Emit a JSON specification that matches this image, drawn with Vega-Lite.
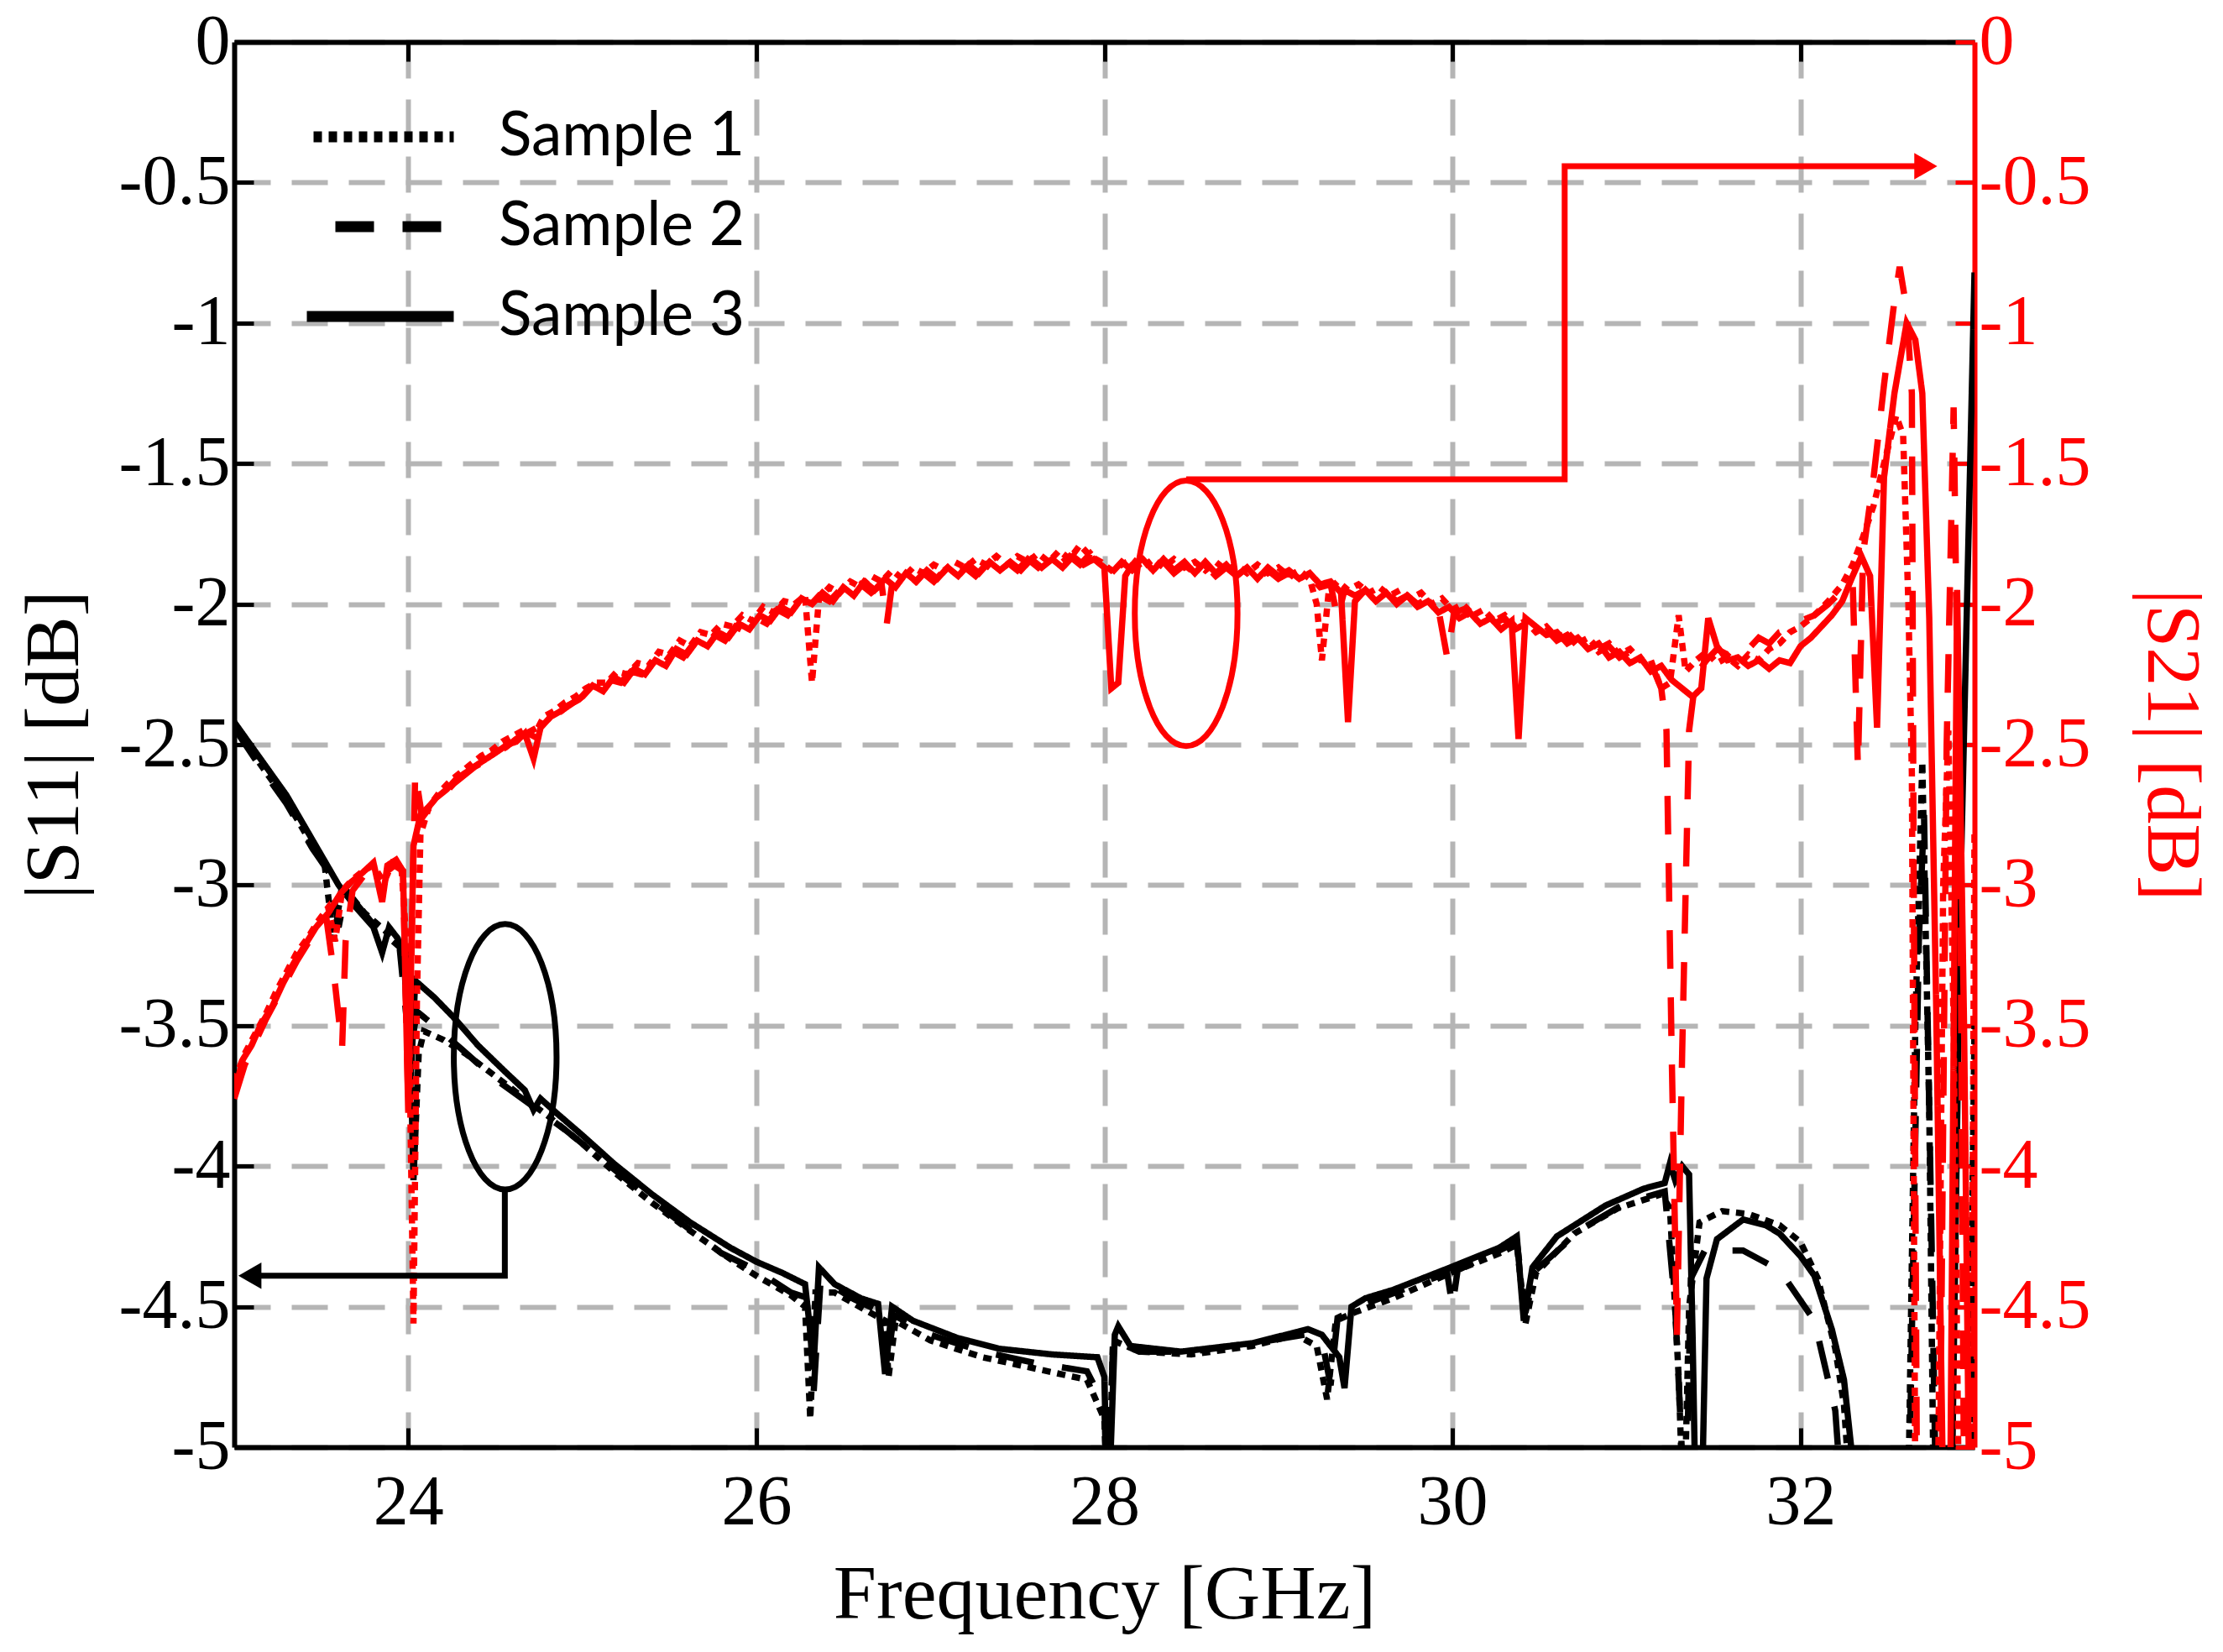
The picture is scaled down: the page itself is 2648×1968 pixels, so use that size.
{
  "$schema": "https://vega.github.io/schema/vega-lite/v6.json",
  "description": "|S11| and |S21| of three samples versus frequency, with the S21 values on a red right-hand axis.",
  "width": 2073,
  "height": 1674,
  "autosize": "none",
  "padding": {"left": 279, "top": 50, "right": 296, "bottom": 244},
  "background": "white",
  "config": {"view": {"stroke": null}},
  "datasets": {
    "ann": [
      {"g": "a11", "p": "S11", "i": 0, "f": 24.555, "db": -4.08},
      {"g": "a11", "p": "S11", "i": 1, "f": 24.555, "db": -4.39},
      {"g": "a11", "p": "S11", "i": 2, "f": 23.09, "db": -4.39},
      {"g": "a21", "p": "S21", "i": 0, "f": 28.47, "db": -1.556},
      {"g": "a21", "p": "S21", "i": 1, "f": 30.645, "db": -1.556},
      {"g": "a21", "p": "S21", "i": 2, "f": 30.645, "db": -0.442},
      {"g": "a21", "p": "S21", "i": 3, "f": 32.72, "db": -0.442}
    ],
    "heads": [
      {"p": "S11", "d": "left", "f": 23.09, "db": -4.39},
      {"p": "S21", "d": "right", "f": 32.72, "db": -0.442}
    ],
    "rings": [
      {"p": "S11", "f": 24.557, "db": -3.611},
      {"p": "S21", "f": 28.47, "db": -2.033}
    ],
    "curves": [
      {"p": "S11", "s": "Sample 3", "f": 23.00, "db": -2.42},
      {"p": "S11", "s": "Sample 3", "f": 23.15, "db": -2.55},
      {"p": "S11", "s": "Sample 3", "f": 23.30, "db": -2.68},
      {"p": "S11", "s": "Sample 3", "f": 23.45, "db": -2.84},
      {"p": "S11", "s": "Sample 3", "f": 23.60, "db": -3.00},
      {"p": "S11", "s": "Sample 3", "f": 23.70, "db": -3.08},
      {"p": "S11", "s": "Sample 3", "f": 23.80, "db": -3.15},
      {"p": "S11", "s": "Sample 3", "f": 23.85, "db": -3.24},
      {"p": "S11", "s": "Sample 3", "f": 23.89, "db": -3.15},
      {"p": "S11", "s": "Sample 3", "f": 23.94, "db": -3.19},
      {"p": "S11", "s": "Sample 3", "f": 23.98, "db": -3.30},
      {"p": "S11", "s": "Sample 3", "f": 24.01, "db": -3.75},
      {"p": "S11", "s": "Sample 3", "f": 24.04, "db": -3.34},
      {"p": "S11", "s": "Sample 3", "f": 24.15, "db": -3.40},
      {"p": "S11", "s": "Sample 3", "f": 24.26, "db": -3.47},
      {"p": "S11", "s": "Sample 3", "f": 24.40, "db": -3.57},
      {"p": "S11", "s": "Sample 3", "f": 24.55, "db": -3.66},
      {"p": "S11", "s": "Sample 3", "f": 24.67, "db": -3.73},
      {"p": "S11", "s": "Sample 3", "f": 24.72, "db": -3.80},
      {"p": "S11", "s": "Sample 3", "f": 24.76, "db": -3.76},
      {"p": "S11", "s": "Sample 3", "f": 24.85, "db": -3.81},
      {"p": "S11", "s": "Sample 3", "f": 25.00, "db": -3.89},
      {"p": "S11", "s": "Sample 3", "f": 25.18, "db": -3.99},
      {"p": "S11", "s": "Sample 3", "f": 25.40, "db": -4.10},
      {"p": "S11", "s": "Sample 3", "f": 25.62, "db": -4.20},
      {"p": "S11", "s": "Sample 3", "f": 25.85, "db": -4.29},
      {"p": "S11", "s": "Sample 3", "f": 26.00, "db": -4.34},
      {"p": "S11", "s": "Sample 3", "f": 26.15, "db": -4.38},
      {"p": "S11", "s": "Sample 3", "f": 26.28, "db": -4.42},
      {"p": "S11", "s": "Sample 3", "f": 26.33, "db": -4.70},
      {"p": "S11", "s": "Sample 3", "f": 26.36, "db": -4.36},
      {"p": "S11", "s": "Sample 3", "f": 26.45, "db": -4.42},
      {"p": "S11", "s": "Sample 3", "f": 26.60, "db": -4.47},
      {"p": "S11", "s": "Sample 3", "f": 26.70, "db": -4.49},
      {"p": "S11", "s": "Sample 3", "f": 26.74, "db": -4.74},
      {"p": "S11", "s": "Sample 3", "f": 26.78, "db": -4.50},
      {"p": "S11", "s": "Sample 3", "f": 26.90, "db": -4.55},
      {"p": "S11", "s": "Sample 3", "f": 27.15, "db": -4.61},
      {"p": "S11", "s": "Sample 3", "f": 27.40, "db": -4.65},
      {"p": "S11", "s": "Sample 3", "f": 27.70, "db": -4.67},
      {"p": "S11", "s": "Sample 3", "f": 27.96, "db": -4.68},
      {"p": "S11", "s": "Sample 3", "f": 28.00, "db": -4.75},
      {"p": "S11", "s": "Sample 3", "f": 28.02, "db": -5.30},
      {"p": "S11", "s": "Sample 3", "f": 28.06, "db": -4.60},
      {"p": "S11", "s": "Sample 3", "f": 28.08, "db": -4.57},
      {"p": "S11", "s": "Sample 3", "f": 28.15, "db": -4.64},
      {"p": "S11", "s": "Sample 3", "f": 28.44, "db": -4.66},
      {"p": "S11", "s": "Sample 3", "f": 28.85, "db": -4.63},
      {"p": "S11", "s": "Sample 3", "f": 29.17, "db": -4.58},
      {"p": "S11", "s": "Sample 3", "f": 29.25, "db": -4.60},
      {"p": "S11", "s": "Sample 3", "f": 29.35, "db": -4.68},
      {"p": "S11", "s": "Sample 3", "f": 29.38, "db": -4.79},
      {"p": "S11", "s": "Sample 3", "f": 29.42, "db": -4.50},
      {"p": "S11", "s": "Sample 3", "f": 29.50, "db": -4.47},
      {"p": "S11", "s": "Sample 3", "f": 29.66, "db": -4.44},
      {"p": "S11", "s": "Sample 3", "f": 29.99, "db": -4.36},
      {"p": "S11", "s": "Sample 3", "f": 30.27, "db": -4.29},
      {"p": "S11", "s": "Sample 3", "f": 30.37, "db": -4.25},
      {"p": "S11", "s": "Sample 3", "f": 30.41, "db": -4.55},
      {"p": "S11", "s": "Sample 3", "f": 30.46, "db": -4.36},
      {"p": "S11", "s": "Sample 3", "f": 30.60, "db": -4.25},
      {"p": "S11", "s": "Sample 3", "f": 30.88, "db": -4.14},
      {"p": "S11", "s": "Sample 3", "f": 31.10, "db": -4.08},
      {"p": "S11", "s": "Sample 3", "f": 31.22, "db": -4.06},
      {"p": "S11", "s": "Sample 3", "f": 31.25, "db": -3.99},
      {"p": "S11", "s": "Sample 3", "f": 31.28, "db": -4.05},
      {"p": "S11", "s": "Sample 3", "f": 31.32, "db": -4.00},
      {"p": "S11", "s": "Sample 3", "f": 31.36, "db": -4.03},
      {"p": "S11", "s": "Sample 3", "f": 31.38, "db": -4.60},
      {"p": "S11", "s": "Sample 3", "f": 31.40, "db": -5.30},
      {"p": "S11", "s": "Sample 3", "f": 31.43, "db": -5.30},
      {"p": "S11", "s": "Sample 3", "f": 31.46, "db": -4.40},
      {"p": "S11", "s": "Sample 3", "f": 31.52, "db": -4.26},
      {"p": "S11", "s": "Sample 3", "f": 31.67, "db": -4.19},
      {"p": "S11", "s": "Sample 3", "f": 31.80, "db": -4.21},
      {"p": "S11", "s": "Sample 3", "f": 31.88, "db": -4.24},
      {"p": "S11", "s": "Sample 3", "f": 32.00, "db": -4.32},
      {"p": "S11", "s": "Sample 3", "f": 32.08, "db": -4.39},
      {"p": "S11", "s": "Sample 3", "f": 32.18, "db": -4.58},
      {"p": "S11", "s": "Sample 3", "f": 32.25, "db": -4.76},
      {"p": "S11", "s": "Sample 3", "f": 32.30, "db": -5.05},
      {"p": "S11", "s": "Sample 3", "f": 32.40, "db": -6.00},
      {"p": "S11", "s": "Sample 3", "f": 32.85, "db": -6.00},
      {"p": "S11", "s": "Sample 3", "f": 32.92, "db": -3.00},
      {"p": "S11", "s": "Sample 3", "f": 33.00, "db": -0.82},

      {"p": "S11", "s": "Sample 1", "f": 23.00, "db": -2.43},
      {"p": "S11", "s": "Sample 1", "f": 23.15, "db": -2.57},
      {"p": "S11", "s": "Sample 1", "f": 23.30, "db": -2.70},
      {"p": "S11", "s": "Sample 1", "f": 23.45, "db": -2.86},
      {"p": "S11", "s": "Sample 1", "f": 23.52, "db": -2.93},
      {"p": "S11", "s": "Sample 1", "f": 23.57, "db": -3.20},
      {"p": "S11", "s": "Sample 1", "f": 23.62, "db": -3.00},
      {"p": "S11", "s": "Sample 1", "f": 23.75, "db": -3.10},
      {"p": "S11", "s": "Sample 1", "f": 23.90, "db": -3.18},
      {"p": "S11", "s": "Sample 1", "f": 24.00, "db": -3.25},
      {"p": "S11", "s": "Sample 1", "f": 24.03, "db": -4.05},
      {"p": "S11", "s": "Sample 1", "f": 24.06, "db": -3.60},
      {"p": "S11", "s": "Sample 1", "f": 24.09, "db": -3.52},
      {"p": "S11", "s": "Sample 1", "f": 24.20, "db": -3.55},
      {"p": "S11", "s": "Sample 1", "f": 24.33, "db": -3.60},
      {"p": "S11", "s": "Sample 1", "f": 24.50, "db": -3.68},
      {"p": "S11", "s": "Sample 1", "f": 24.67, "db": -3.76},
      {"p": "S11", "s": "Sample 1", "f": 24.80, "db": -3.82},
      {"p": "S11", "s": "Sample 1", "f": 25.00, "db": -3.92},
      {"p": "S11", "s": "Sample 1", "f": 25.20, "db": -4.03},
      {"p": "S11", "s": "Sample 1", "f": 25.40, "db": -4.13},
      {"p": "S11", "s": "Sample 1", "f": 25.62, "db": -4.23},
      {"p": "S11", "s": "Sample 1", "f": 25.85, "db": -4.33},
      {"p": "S11", "s": "Sample 1", "f": 26.00, "db": -4.39},
      {"p": "S11", "s": "Sample 1", "f": 26.20, "db": -4.46},
      {"p": "S11", "s": "Sample 1", "f": 26.28, "db": -4.50},
      {"p": "S11", "s": "Sample 1", "f": 26.31, "db": -4.90},
      {"p": "S11", "s": "Sample 1", "f": 26.34, "db": -4.45},
      {"p": "S11", "s": "Sample 1", "f": 26.45, "db": -4.45},
      {"p": "S11", "s": "Sample 1", "f": 26.65, "db": -4.52},
      {"p": "S11", "s": "Sample 1", "f": 26.74, "db": -4.55},
      {"p": "S11", "s": "Sample 1", "f": 26.76, "db": -4.75},
      {"p": "S11", "s": "Sample 1", "f": 26.80, "db": -4.55},
      {"p": "S11", "s": "Sample 1", "f": 27.00, "db": -4.62},
      {"p": "S11", "s": "Sample 1", "f": 27.30, "db": -4.68},
      {"p": "S11", "s": "Sample 1", "f": 27.60, "db": -4.72},
      {"p": "S11", "s": "Sample 1", "f": 27.90, "db": -4.76},
      {"p": "S11", "s": "Sample 1", "f": 28.00, "db": -4.90},
      {"p": "S11", "s": "Sample 1", "f": 28.02, "db": -5.30},
      {"p": "S11", "s": "Sample 1", "f": 28.05, "db": -4.62},
      {"p": "S11", "s": "Sample 1", "f": 28.20, "db": -4.66},
      {"p": "S11", "s": "Sample 1", "f": 28.50, "db": -4.67},
      {"p": "S11", "s": "Sample 1", "f": 28.85, "db": -4.64},
      {"p": "S11", "s": "Sample 1", "f": 29.10, "db": -4.60},
      {"p": "S11", "s": "Sample 1", "f": 29.22, "db": -4.64},
      {"p": "S11", "s": "Sample 1", "f": 29.28, "db": -4.83},
      {"p": "S11", "s": "Sample 1", "f": 29.33, "db": -4.55},
      {"p": "S11", "s": "Sample 1", "f": 29.44, "db": -4.52},
      {"p": "S11", "s": "Sample 1", "f": 29.66, "db": -4.47},
      {"p": "S11", "s": "Sample 1", "f": 29.99, "db": -4.38},
      {"p": "S11", "s": "Sample 1", "f": 30.27, "db": -4.31},
      {"p": "S11", "s": "Sample 1", "f": 30.37, "db": -4.28},
      {"p": "S11", "s": "Sample 1", "f": 30.42, "db": -4.56},
      {"p": "S11", "s": "Sample 1", "f": 30.48, "db": -4.38},
      {"p": "S11", "s": "Sample 1", "f": 30.70, "db": -4.24},
      {"p": "S11", "s": "Sample 1", "f": 30.95, "db": -4.15},
      {"p": "S11", "s": "Sample 1", "f": 31.20, "db": -4.10},
      {"p": "S11", "s": "Sample 1", "f": 31.25, "db": -4.15},
      {"p": "S11", "s": "Sample 1", "f": 31.30, "db": -4.75},
      {"p": "S11", "s": "Sample 1", "f": 31.33, "db": -5.30},
      {"p": "S11", "s": "Sample 1", "f": 31.36, "db": -4.50},
      {"p": "S11", "s": "Sample 1", "f": 31.42, "db": -4.20},
      {"p": "S11", "s": "Sample 1", "f": 31.55, "db": -4.16},
      {"p": "S11", "s": "Sample 1", "f": 31.70, "db": -4.17},
      {"p": "S11", "s": "Sample 1", "f": 31.88, "db": -4.21},
      {"p": "S11", "s": "Sample 1", "f": 32.00, "db": -4.27},
      {"p": "S11", "s": "Sample 1", "f": 32.10, "db": -4.40},
      {"p": "S11", "s": "Sample 1", "f": 32.20, "db": -4.65},
      {"p": "S11", "s": "Sample 1", "f": 32.25, "db": -4.85},
      {"p": "S11", "s": "Sample 1", "f": 32.30, "db": -5.30},
      {"p": "S11", "s": "Sample 1", "f": 32.40, "db": -6.00},
      {"p": "S11", "s": "Sample 1", "f": 32.60, "db": -6.00},
      {"p": "S11", "s": "Sample 1", "f": 32.66, "db": -3.50},
      {"p": "S11", "s": "Sample 1", "f": 32.70, "db": -2.56},
      {"p": "S11", "s": "Sample 1", "f": 32.74, "db": -3.80},
      {"p": "S11", "s": "Sample 1", "f": 32.78, "db": -6.00},
      {"p": "S11", "s": "Sample 1", "f": 32.95, "db": -6.00},
      {"p": "S11", "s": "Sample 1", "f": 33.00, "db": -3.50},

      {"p": "S11", "s": "Sample 2", "f": 23.00, "db": -2.44},
      {"p": "S11", "s": "Sample 2", "f": 23.15, "db": -2.58},
      {"p": "S11", "s": "Sample 2", "f": 23.30, "db": -2.71},
      {"p": "S11", "s": "Sample 2", "f": 23.45, "db": -2.87},
      {"p": "S11", "s": "Sample 2", "f": 23.55, "db": -2.96},
      {"p": "S11", "s": "Sample 2", "f": 23.60, "db": -3.15},
      {"p": "S11", "s": "Sample 2", "f": 23.64, "db": -3.02},
      {"p": "S11", "s": "Sample 2", "f": 23.80, "db": -3.14},
      {"p": "S11", "s": "Sample 2", "f": 23.95, "db": -3.22},
      {"p": "S11", "s": "Sample 2", "f": 24.01, "db": -3.60},
      {"p": "S11", "s": "Sample 2", "f": 24.05, "db": -3.45},
      {"p": "S11", "s": "Sample 2", "f": 24.15, "db": -3.50},
      {"p": "S11", "s": "Sample 2", "f": 24.30, "db": -3.58},
      {"p": "S11", "s": "Sample 2", "f": 24.50, "db": -3.69},
      {"p": "S11", "s": "Sample 2", "f": 24.70, "db": -3.78},
      {"p": "S11", "s": "Sample 2", "f": 24.90, "db": -3.87},
      {"p": "S11", "s": "Sample 2", "f": 25.20, "db": -4.02},
      {"p": "S11", "s": "Sample 2", "f": 25.50, "db": -4.17},
      {"p": "S11", "s": "Sample 2", "f": 25.80, "db": -4.31},
      {"p": "S11", "s": "Sample 2", "f": 26.00, "db": -4.37},
      {"p": "S11", "s": "Sample 2", "f": 26.20, "db": -4.45},
      {"p": "S11", "s": "Sample 2", "f": 26.30, "db": -4.47},
      {"p": "S11", "s": "Sample 2", "f": 26.33, "db": -4.80},
      {"p": "S11", "s": "Sample 2", "f": 26.37, "db": -4.40},
      {"p": "S11", "s": "Sample 2", "f": 26.55, "db": -4.47},
      {"p": "S11", "s": "Sample 2", "f": 26.72, "db": -4.52},
      {"p": "S11", "s": "Sample 2", "f": 26.75, "db": -4.72},
      {"p": "S11", "s": "Sample 2", "f": 26.79, "db": -4.53},
      {"p": "S11", "s": "Sample 2", "f": 27.00, "db": -4.60},
      {"p": "S11", "s": "Sample 2", "f": 27.30, "db": -4.66},
      {"p": "S11", "s": "Sample 2", "f": 27.60, "db": -4.70},
      {"p": "S11", "s": "Sample 2", "f": 27.90, "db": -4.73},
      {"p": "S11", "s": "Sample 2", "f": 28.00, "db": -4.85},
      {"p": "S11", "s": "Sample 2", "f": 28.02, "db": -5.30},
      {"p": "S11", "s": "Sample 2", "f": 28.05, "db": -4.62},
      {"p": "S11", "s": "Sample 2", "f": 28.20, "db": -4.66},
      {"p": "S11", "s": "Sample 2", "f": 28.50, "db": -4.66},
      {"p": "S11", "s": "Sample 2", "f": 28.85, "db": -4.63},
      {"p": "S11", "s": "Sample 2", "f": 29.15, "db": -4.60},
      {"p": "S11", "s": "Sample 2", "f": 29.26, "db": -4.65},
      {"p": "S11", "s": "Sample 2", "f": 29.30, "db": -4.78},
      {"p": "S11", "s": "Sample 2", "f": 29.34, "db": -4.54},
      {"p": "S11", "s": "Sample 2", "f": 29.50, "db": -4.49},
      {"p": "S11", "s": "Sample 2", "f": 29.80, "db": -4.42},
      {"p": "S11", "s": "Sample 2", "f": 29.97, "db": -4.38},
      {"p": "S11", "s": "Sample 2", "f": 30.00, "db": -4.50},
      {"p": "S11", "s": "Sample 2", "f": 30.03, "db": -4.37},
      {"p": "S11", "s": "Sample 2", "f": 30.27, "db": -4.30},
      {"p": "S11", "s": "Sample 2", "f": 30.37, "db": -4.27},
      {"p": "S11", "s": "Sample 2", "f": 30.42, "db": -4.52},
      {"p": "S11", "s": "Sample 2", "f": 30.48, "db": -4.37},
      {"p": "S11", "s": "Sample 2", "f": 30.75, "db": -4.22},
      {"p": "S11", "s": "Sample 2", "f": 31.00, "db": -4.13},
      {"p": "S11", "s": "Sample 2", "f": 31.22, "db": -4.09},
      {"p": "S11", "s": "Sample 2", "f": 31.28, "db": -4.50},
      {"p": "S11", "s": "Sample 2", "f": 31.31, "db": -4.90},
      {"p": "S11", "s": "Sample 2", "f": 31.34, "db": -5.30},
      {"p": "S11", "s": "Sample 2", "f": 31.37, "db": -4.40},
      {"p": "S11", "s": "Sample 2", "f": 31.45, "db": -4.30},
      {"p": "S11", "s": "Sample 2", "f": 31.67, "db": -4.30},
      {"p": "S11", "s": "Sample 2", "f": 31.88, "db": -4.37},
      {"p": "S11", "s": "Sample 2", "f": 32.08, "db": -4.55},
      {"p": "S11", "s": "Sample 2", "f": 32.20, "db": -4.87},
      {"p": "S11", "s": "Sample 2", "f": 32.25, "db": -5.30},
      {"p": "S11", "s": "Sample 2", "f": 32.35, "db": -6.00},
      {"p": "S11", "s": "Sample 2", "f": 32.60, "db": -6.00},
      {"p": "S11", "s": "Sample 2", "f": 32.68, "db": -3.20},
      {"p": "S11", "s": "Sample 2", "f": 32.71, "db": -2.75},
      {"p": "S11", "s": "Sample 2", "f": 32.76, "db": -4.50},
      {"p": "S11", "s": "Sample 2", "f": 32.80, "db": -6.00},
      {"p": "S11", "s": "Sample 2", "f": 32.96, "db": -6.00},
      {"p": "S11", "s": "Sample 2", "f": 33.00, "db": -3.80},

      {"p": "S21", "s": "Sample 3", "f": 23.00, "db": -3.74},
      {"p": "S21", "s": "Sample 3", "f": 23.05, "db": -3.62},
      {"p": "S21", "s": "Sample 3", "f": 23.10, "db": -3.57},
      {"p": "S21", "s": "Sample 3", "f": 23.15, "db": -3.50},
      {"p": "S21", "s": "Sample 3", "f": 23.22, "db": -3.43},
      {"p": "S21", "s": "Sample 3", "f": 23.28, "db": -3.35},
      {"p": "S21", "s": "Sample 3", "f": 23.34, "db": -3.28},
      {"p": "S21", "s": "Sample 3", "f": 23.40, "db": -3.22},
      {"p": "S21", "s": "Sample 3", "f": 23.47, "db": -3.15},
      {"p": "S21", "s": "Sample 3", "f": 23.54, "db": -3.10},
      {"p": "S21", "s": "Sample 3", "f": 23.61, "db": -3.03},
      {"p": "S21", "s": "Sample 3", "f": 23.67, "db": -2.99},
      {"p": "S21", "s": "Sample 3", "f": 23.73, "db": -2.96},
      {"p": "S21", "s": "Sample 3", "f": 23.80, "db": -2.92},
      {"p": "S21", "s": "Sample 3", "f": 23.85, "db": -3.06},
      {"p": "S21", "s": "Sample 3", "f": 23.88, "db": -2.93},
      {"p": "S21", "s": "Sample 3", "f": 23.93, "db": -2.91},
      {"p": "S21", "s": "Sample 3", "f": 23.97, "db": -2.95},
      {"p": "S21", "s": "Sample 3", "f": 24.00, "db": -3.81},
      {"p": "S21", "s": "Sample 3", "f": 24.03, "db": -2.86},
      {"p": "S21", "s": "Sample 3", "f": 24.07, "db": -2.75},
      {"p": "S21", "s": "Sample 3", "f": 24.12, "db": -2.72},
      {"p": "S21", "s": "Sample 3", "f": 24.16, "db": -2.69},
      {"p": "S21", "s": "Sample 3", "f": 24.22, "db": -2.66},
      {"p": "S21", "s": "Sample 3", "f": 24.28, "db": -2.62},
      {"p": "S21", "s": "Sample 3", "f": 24.33, "db": -2.60},
      {"p": "S21", "s": "Sample 3", "f": 24.40, "db": -2.57},
      {"p": "S21", "s": "Sample 3", "f": 24.45, "db": -2.55},
      {"p": "S21", "s": "Sample 3", "f": 24.50, "db": -2.53},
      {"p": "S21", "s": "Sample 3", "f": 24.57, "db": -2.50},
      {"p": "S21", "s": "Sample 3", "f": 24.62, "db": -2.49},
      {"p": "S21", "s": "Sample 3", "f": 24.67, "db": -2.46},
      {"p": "S21", "s": "Sample 3", "f": 24.72, "db": -2.55},
      {"p": "S21", "s": "Sample 3", "f": 24.76, "db": -2.44},
      {"p": "S21", "s": "Sample 3", "f": 24.82, "db": -2.40},
      {"p": "S21", "s": "Sample 3", "f": 24.88, "db": -2.38},
      {"p": "S21", "s": "Sample 3", "f": 24.95, "db": -2.35},
      {"p": "S21", "s": "Sample 3", "f": 25.00, "db": -2.33},
      {"p": "S21", "s": "Sample 3", "f": 25.06, "db": -2.29},
      {"p": "S21", "s": "Sample 3", "f": 25.12, "db": -2.31},
      {"p": "S21", "s": "Sample 3", "f": 25.18, "db": -2.26},
      {"p": "S21", "s": "Sample 3", "f": 25.24, "db": -2.28},
      {"p": "S21", "s": "Sample 3", "f": 25.30, "db": -2.23},
      {"p": "S21", "s": "Sample 3", "f": 25.36, "db": -2.25},
      {"p": "S21", "s": "Sample 3", "f": 25.42, "db": -2.20},
      {"p": "S21", "s": "Sample 3", "f": 25.48, "db": -2.22},
      {"p": "S21", "s": "Sample 3", "f": 25.54, "db": -2.16},
      {"p": "S21", "s": "Sample 3", "f": 25.60, "db": -2.18},
      {"p": "S21", "s": "Sample 3", "f": 25.66, "db": -2.13},
      {"p": "S21", "s": "Sample 3", "f": 25.72, "db": -2.15},
      {"p": "S21", "s": "Sample 3", "f": 25.78, "db": -2.10},
      {"p": "S21", "s": "Sample 3", "f": 25.84, "db": -2.12},
      {"p": "S21", "s": "Sample 3", "f": 25.90, "db": -2.07},
      {"p": "S21", "s": "Sample 3", "f": 25.96, "db": -2.09},
      {"p": "S21", "s": "Sample 3", "f": 26.02, "db": -2.04},
      {"p": "S21", "s": "Sample 3", "f": 26.08, "db": -2.06},
      {"p": "S21", "s": "Sample 3", "f": 26.14, "db": -2.01},
      {"p": "S21", "s": "Sample 3", "f": 26.20, "db": -2.03},
      {"p": "S21", "s": "Sample 3", "f": 26.26, "db": -1.98},
      {"p": "S21", "s": "Sample 3", "f": 26.32, "db": -2.00},
      {"p": "S21", "s": "Sample 3", "f": 26.38, "db": -1.96},
      {"p": "S21", "s": "Sample 3", "f": 26.44, "db": -1.99},
      {"p": "S21", "s": "Sample 3", "f": 26.50, "db": -1.94},
      {"p": "S21", "s": "Sample 3", "f": 26.56, "db": -1.97},
      {"p": "S21", "s": "Sample 3", "f": 26.62, "db": -1.92},
      {"p": "S21", "s": "Sample 3", "f": 26.68, "db": -1.95},
      {"p": "S21", "s": "Sample 3", "f": 26.74, "db": -1.91},
      {"p": "S21", "s": "Sample 3", "f": 26.80, "db": -1.94},
      {"p": "S21", "s": "Sample 3", "f": 26.86, "db": -1.89},
      {"p": "S21", "s": "Sample 3", "f": 26.92, "db": -1.92},
      {"p": "S21", "s": "Sample 3", "f": 26.98, "db": -1.88},
      {"p": "S21", "s": "Sample 3", "f": 27.04, "db": -1.91},
      {"p": "S21", "s": "Sample 3", "f": 27.10, "db": -1.87},
      {"p": "S21", "s": "Sample 3", "f": 27.16, "db": -1.90},
      {"p": "S21", "s": "Sample 3", "f": 27.22, "db": -1.86},
      {"p": "S21", "s": "Sample 3", "f": 27.28, "db": -1.89},
      {"p": "S21", "s": "Sample 3", "f": 27.34, "db": -1.85},
      {"p": "S21", "s": "Sample 3", "f": 27.40, "db": -1.88},
      {"p": "S21", "s": "Sample 3", "f": 27.46, "db": -1.85},
      {"p": "S21", "s": "Sample 3", "f": 27.52, "db": -1.88},
      {"p": "S21", "s": "Sample 3", "f": 27.58, "db": -1.84},
      {"p": "S21", "s": "Sample 3", "f": 27.64, "db": -1.87},
      {"p": "S21", "s": "Sample 3", "f": 27.70, "db": -1.84},
      {"p": "S21", "s": "Sample 3", "f": 27.76, "db": -1.87},
      {"p": "S21", "s": "Sample 3", "f": 27.82, "db": -1.83},
      {"p": "S21", "s": "Sample 3", "f": 27.88, "db": -1.86},
      {"p": "S21", "s": "Sample 3", "f": 27.94, "db": -1.84},
      {"p": "S21", "s": "Sample 3", "f": 28.00, "db": -1.87},
      {"p": "S21", "s": "Sample 3", "f": 28.04, "db": -2.30},
      {"p": "S21", "s": "Sample 3", "f": 28.08, "db": -2.28},
      {"p": "S21", "s": "Sample 3", "f": 28.12, "db": -1.90},
      {"p": "S21", "s": "Sample 3", "f": 28.16, "db": -1.86},
      {"p": "S21", "s": "Sample 3", "f": 28.22, "db": -1.84},
      {"p": "S21", "s": "Sample 3", "f": 28.28, "db": -1.88},
      {"p": "S21", "s": "Sample 3", "f": 28.34, "db": -1.84},
      {"p": "S21", "s": "Sample 3", "f": 28.40, "db": -1.88},
      {"p": "S21", "s": "Sample 3", "f": 28.46, "db": -1.85},
      {"p": "S21", "s": "Sample 3", "f": 28.52, "db": -1.89},
      {"p": "S21", "s": "Sample 3", "f": 28.58, "db": -1.85},
      {"p": "S21", "s": "Sample 3", "f": 28.64, "db": -1.89},
      {"p": "S21", "s": "Sample 3", "f": 28.70, "db": -1.86},
      {"p": "S21", "s": "Sample 3", "f": 28.76, "db": -1.90},
      {"p": "S21", "s": "Sample 3", "f": 28.82, "db": -1.87},
      {"p": "S21", "s": "Sample 3", "f": 28.88, "db": -1.91},
      {"p": "S21", "s": "Sample 3", "f": 28.94, "db": -1.87},
      {"p": "S21", "s": "Sample 3", "f": 29.00, "db": -1.90},
      {"p": "S21", "s": "Sample 3", "f": 29.06, "db": -1.88},
      {"p": "S21", "s": "Sample 3", "f": 29.12, "db": -1.91},
      {"p": "S21", "s": "Sample 3", "f": 29.18, "db": -1.89},
      {"p": "S21", "s": "Sample 3", "f": 29.24, "db": -1.93},
      {"p": "S21", "s": "Sample 3", "f": 29.30, "db": -1.92},
      {"p": "S21", "s": "Sample 3", "f": 29.36, "db": -1.96},
      {"p": "S21", "s": "Sample 3", "f": 29.40, "db": -2.42},
      {"p": "S21", "s": "Sample 3", "f": 29.44, "db": -1.99},
      {"p": "S21", "s": "Sample 3", "f": 29.50, "db": -1.95},
      {"p": "S21", "s": "Sample 3", "f": 29.56, "db": -1.99},
      {"p": "S21", "s": "Sample 3", "f": 29.62, "db": -1.96},
      {"p": "S21", "s": "Sample 3", "f": 29.68, "db": -2.00},
      {"p": "S21", "s": "Sample 3", "f": 29.74, "db": -1.97},
      {"p": "S21", "s": "Sample 3", "f": 29.80, "db": -2.01},
      {"p": "S21", "s": "Sample 3", "f": 29.86, "db": -1.99},
      {"p": "S21", "s": "Sample 3", "f": 29.92, "db": -2.03},
      {"p": "S21", "s": "Sample 3", "f": 29.98, "db": -2.01},
      {"p": "S21", "s": "Sample 3", "f": 30.04, "db": -2.05},
      {"p": "S21", "s": "Sample 3", "f": 30.10, "db": -2.03},
      {"p": "S21", "s": "Sample 3", "f": 30.16, "db": -2.07},
      {"p": "S21", "s": "Sample 3", "f": 30.22, "db": -2.05},
      {"p": "S21", "s": "Sample 3", "f": 30.28, "db": -2.09},
      {"p": "S21", "s": "Sample 3", "f": 30.34, "db": -2.06},
      {"p": "S21", "s": "Sample 3", "f": 30.38, "db": -2.48},
      {"p": "S21", "s": "Sample 3", "f": 30.42, "db": -2.05},
      {"p": "S21", "s": "Sample 3", "f": 30.48, "db": -2.08},
      {"p": "S21", "s": "Sample 3", "f": 30.54, "db": -2.11},
      {"p": "S21", "s": "Sample 3", "f": 30.60, "db": -2.10},
      {"p": "S21", "s": "Sample 3", "f": 30.66, "db": -2.14},
      {"p": "S21", "s": "Sample 3", "f": 30.72, "db": -2.12},
      {"p": "S21", "s": "Sample 3", "f": 30.78, "db": -2.16},
      {"p": "S21", "s": "Sample 3", "f": 30.84, "db": -2.14},
      {"p": "S21", "s": "Sample 3", "f": 30.90, "db": -2.19},
      {"p": "S21", "s": "Sample 3", "f": 30.96, "db": -2.17},
      {"p": "S21", "s": "Sample 3", "f": 31.02, "db": -2.21},
      {"p": "S21", "s": "Sample 3", "f": 31.08, "db": -2.19},
      {"p": "S21", "s": "Sample 3", "f": 31.14, "db": -2.24},
      {"p": "S21", "s": "Sample 3", "f": 31.20, "db": -2.22},
      {"p": "S21", "s": "Sample 3", "f": 31.26, "db": -2.27},
      {"p": "S21", "s": "Sample 3", "f": 31.32, "db": -2.30},
      {"p": "S21", "s": "Sample 3", "f": 31.38, "db": -2.33},
      {"p": "S21", "s": "Sample 3", "f": 31.43, "db": -2.30},
      {"p": "S21", "s": "Sample 3", "f": 31.47, "db": -2.05},
      {"p": "S21", "s": "Sample 3", "f": 31.52, "db": -2.15},
      {"p": "S21", "s": "Sample 3", "f": 31.58, "db": -2.20},
      {"p": "S21", "s": "Sample 3", "f": 31.64, "db": -2.19},
      {"p": "S21", "s": "Sample 3", "f": 31.70, "db": -2.22},
      {"p": "S21", "s": "Sample 3", "f": 31.76, "db": -2.20},
      {"p": "S21", "s": "Sample 3", "f": 31.82, "db": -2.23},
      {"p": "S21", "s": "Sample 3", "f": 31.88, "db": -2.20},
      {"p": "S21", "s": "Sample 3", "f": 31.94, "db": -2.21},
      {"p": "S21", "s": "Sample 3", "f": 32.00, "db": -2.15},
      {"p": "S21", "s": "Sample 3", "f": 32.06, "db": -2.12},
      {"p": "S21", "s": "Sample 3", "f": 32.12, "db": -2.08},
      {"p": "S21", "s": "Sample 3", "f": 32.18, "db": -2.04},
      {"p": "S21", "s": "Sample 3", "f": 32.24, "db": -1.99},
      {"p": "S21", "s": "Sample 3", "f": 32.30, "db": -1.90},
      {"p": "S21", "s": "Sample 3", "f": 32.35, "db": -1.83},
      {"p": "S21", "s": "Sample 3", "f": 32.40, "db": -1.90},
      {"p": "S21", "s": "Sample 3", "f": 32.44, "db": -2.44},
      {"p": "S21", "s": "Sample 3", "f": 32.48, "db": -1.55},
      {"p": "S21", "s": "Sample 3", "f": 32.54, "db": -1.25},
      {"p": "S21", "s": "Sample 3", "f": 32.61, "db": -1.00},
      {"p": "S21", "s": "Sample 3", "f": 32.66, "db": -1.06},
      {"p": "S21", "s": "Sample 3", "f": 32.70, "db": -1.25},
      {"p": "S21", "s": "Sample 3", "f": 32.74, "db": -2.05},
      {"p": "S21", "s": "Sample 3", "f": 32.78, "db": -3.44},
      {"p": "S21", "s": "Sample 3", "f": 32.82, "db": -5.20},
      {"p": "S21", "s": "Sample 3", "f": 32.86, "db": -5.20},
      {"p": "S21", "s": "Sample 3", "f": 32.90, "db": -1.95},
      {"p": "S21", "s": "Sample 3", "f": 32.94, "db": -3.50},
      {"p": "S21", "s": "Sample 3", "f": 32.97, "db": -5.20},

      {"p": "S21", "s": "Sample 1", "f": 23.00, "db": -3.70},
      {"p": "S21", "s": "Sample 1", "f": 23.06, "db": -3.60},
      {"p": "S21", "s": "Sample 1", "f": 23.12, "db": -3.53},
      {"p": "S21", "s": "Sample 1", "f": 23.18, "db": -3.46},
      {"p": "S21", "s": "Sample 1", "f": 23.24, "db": -3.38},
      {"p": "S21", "s": "Sample 1", "f": 23.30, "db": -3.31},
      {"p": "S21", "s": "Sample 1", "f": 23.36, "db": -3.24},
      {"p": "S21", "s": "Sample 1", "f": 23.42, "db": -3.19},
      {"p": "S21", "s": "Sample 1", "f": 23.48, "db": -3.13},
      {"p": "S21", "s": "Sample 1", "f": 23.54, "db": -3.08},
      {"p": "S21", "s": "Sample 1", "f": 23.58, "db": -3.20},
      {"p": "S21", "s": "Sample 1", "f": 23.62, "db": -3.02},
      {"p": "S21", "s": "Sample 1", "f": 23.68, "db": -2.98},
      {"p": "S21", "s": "Sample 1", "f": 23.74, "db": -2.95},
      {"p": "S21", "s": "Sample 1", "f": 23.80, "db": -2.93},
      {"p": "S21", "s": "Sample 1", "f": 23.86, "db": -2.99},
      {"p": "S21", "s": "Sample 1", "f": 23.91, "db": -2.92},
      {"p": "S21", "s": "Sample 1", "f": 23.96, "db": -2.93},
      {"p": "S21", "s": "Sample 1", "f": 24.00, "db": -3.30},
      {"p": "S21", "s": "Sample 1", "f": 24.03, "db": -4.56},
      {"p": "S21", "s": "Sample 1", "f": 24.05, "db": -3.40},
      {"p": "S21", "s": "Sample 1", "f": 24.07, "db": -2.82},
      {"p": "S21", "s": "Sample 1", "f": 24.12, "db": -2.72},
      {"p": "S21", "s": "Sample 1", "f": 24.18, "db": -2.67},
      {"p": "S21", "s": "Sample 1", "f": 24.24, "db": -2.63},
      {"p": "S21", "s": "Sample 1", "f": 24.30, "db": -2.60},
      {"p": "S21", "s": "Sample 1", "f": 24.36, "db": -2.57},
      {"p": "S21", "s": "Sample 1", "f": 24.42, "db": -2.54},
      {"p": "S21", "s": "Sample 1", "f": 24.48, "db": -2.52},
      {"p": "S21", "s": "Sample 1", "f": 24.54, "db": -2.49},
      {"p": "S21", "s": "Sample 1", "f": 24.60, "db": -2.47},
      {"p": "S21", "s": "Sample 1", "f": 24.66, "db": -2.45},
      {"p": "S21", "s": "Sample 1", "f": 24.72, "db": -2.47},
      {"p": "S21", "s": "Sample 1", "f": 24.78, "db": -2.40},
      {"p": "S21", "s": "Sample 1", "f": 24.84, "db": -2.38},
      {"p": "S21", "s": "Sample 1", "f": 24.90, "db": -2.35},
      {"p": "S21", "s": "Sample 1", "f": 24.96, "db": -2.33},
      {"p": "S21", "s": "Sample 1", "f": 25.02, "db": -2.30},
      {"p": "S21", "s": "Sample 1", "f": 25.08, "db": -2.28},
      {"p": "S21", "s": "Sample 1", "f": 25.14, "db": -2.28},
      {"p": "S21", "s": "Sample 1", "f": 25.20, "db": -2.24},
      {"p": "S21", "s": "Sample 1", "f": 25.26, "db": -2.25},
      {"p": "S21", "s": "Sample 1", "f": 25.32, "db": -2.21},
      {"p": "S21", "s": "Sample 1", "f": 25.38, "db": -2.22},
      {"p": "S21", "s": "Sample 1", "f": 25.44, "db": -2.17},
      {"p": "S21", "s": "Sample 1", "f": 25.50, "db": -2.18},
      {"p": "S21", "s": "Sample 1", "f": 25.56, "db": -2.13},
      {"p": "S21", "s": "Sample 1", "f": 25.62, "db": -2.15},
      {"p": "S21", "s": "Sample 1", "f": 25.68, "db": -2.10},
      {"p": "S21", "s": "Sample 1", "f": 25.74, "db": -2.11},
      {"p": "S21", "s": "Sample 1", "f": 25.80, "db": -2.07},
      {"p": "S21", "s": "Sample 1", "f": 25.86, "db": -2.08},
      {"p": "S21", "s": "Sample 1", "f": 25.92, "db": -2.04},
      {"p": "S21", "s": "Sample 1", "f": 25.98, "db": -2.06},
      {"p": "S21", "s": "Sample 1", "f": 26.04, "db": -2.01},
      {"p": "S21", "s": "Sample 1", "f": 26.10, "db": -2.03},
      {"p": "S21", "s": "Sample 1", "f": 26.16, "db": -1.99},
      {"p": "S21", "s": "Sample 1", "f": 26.22, "db": -2.00},
      {"p": "S21", "s": "Sample 1", "f": 26.28, "db": -1.97},
      {"p": "S21", "s": "Sample 1", "f": 26.32, "db": -2.28},
      {"p": "S21", "s": "Sample 1", "f": 26.36, "db": -1.98},
      {"p": "S21", "s": "Sample 1", "f": 26.42, "db": -1.94},
      {"p": "S21", "s": "Sample 1", "f": 26.48, "db": -1.96},
      {"p": "S21", "s": "Sample 1", "f": 26.54, "db": -1.92},
      {"p": "S21", "s": "Sample 1", "f": 26.60, "db": -1.94},
      {"p": "S21", "s": "Sample 1", "f": 26.66, "db": -1.90},
      {"p": "S21", "s": "Sample 1", "f": 26.72, "db": -1.92},
      {"p": "S21", "s": "Sample 1", "f": 26.78, "db": -1.88},
      {"p": "S21", "s": "Sample 1", "f": 26.84, "db": -1.91},
      {"p": "S21", "s": "Sample 1", "f": 26.90, "db": -1.87},
      {"p": "S21", "s": "Sample 1", "f": 26.96, "db": -1.89},
      {"p": "S21", "s": "Sample 1", "f": 27.02, "db": -1.86},
      {"p": "S21", "s": "Sample 1", "f": 27.08, "db": -1.88},
      {"p": "S21", "s": "Sample 1", "f": 27.14, "db": -1.85},
      {"p": "S21", "s": "Sample 1", "f": 27.20, "db": -1.87},
      {"p": "S21", "s": "Sample 1", "f": 27.26, "db": -1.84},
      {"p": "S21", "s": "Sample 1", "f": 27.32, "db": -1.86},
      {"p": "S21", "s": "Sample 1", "f": 27.38, "db": -1.83},
      {"p": "S21", "s": "Sample 1", "f": 27.44, "db": -1.86},
      {"p": "S21", "s": "Sample 1", "f": 27.50, "db": -1.83},
      {"p": "S21", "s": "Sample 1", "f": 27.56, "db": -1.85},
      {"p": "S21", "s": "Sample 1", "f": 27.62, "db": -1.82},
      {"p": "S21", "s": "Sample 1", "f": 27.68, "db": -1.85},
      {"p": "S21", "s": "Sample 1", "f": 27.74, "db": -1.81},
      {"p": "S21", "s": "Sample 1", "f": 27.80, "db": -1.84},
      {"p": "S21", "s": "Sample 1", "f": 27.86, "db": -1.79},
      {"p": "S21", "s": "Sample 1", "f": 27.92, "db": -1.83},
      {"p": "S21", "s": "Sample 1", "f": 27.98, "db": -1.85},
      {"p": "S21", "s": "Sample 1", "f": 28.04, "db": -1.88},
      {"p": "S21", "s": "Sample 1", "f": 28.10, "db": -1.86},
      {"p": "S21", "s": "Sample 1", "f": 28.16, "db": -1.84},
      {"p": "S21", "s": "Sample 1", "f": 28.22, "db": -1.87},
      {"p": "S21", "s": "Sample 1", "f": 28.28, "db": -1.84},
      {"p": "S21", "s": "Sample 1", "f": 28.34, "db": -1.87},
      {"p": "S21", "s": "Sample 1", "f": 28.40, "db": -1.84},
      {"p": "S21", "s": "Sample 1", "f": 28.46, "db": -1.87},
      {"p": "S21", "s": "Sample 1", "f": 28.52, "db": -1.85},
      {"p": "S21", "s": "Sample 1", "f": 28.58, "db": -1.88},
      {"p": "S21", "s": "Sample 1", "f": 28.64, "db": -1.85},
      {"p": "S21", "s": "Sample 1", "f": 28.70, "db": -1.88},
      {"p": "S21", "s": "Sample 1", "f": 28.76, "db": -1.86},
      {"p": "S21", "s": "Sample 1", "f": 28.82, "db": -1.89},
      {"p": "S21", "s": "Sample 1", "f": 28.88, "db": -1.86},
      {"p": "S21", "s": "Sample 1", "f": 28.94, "db": -1.89},
      {"p": "S21", "s": "Sample 1", "f": 29.00, "db": -1.87},
      {"p": "S21", "s": "Sample 1", "f": 29.06, "db": -1.90},
      {"p": "S21", "s": "Sample 1", "f": 29.12, "db": -1.88},
      {"p": "S21", "s": "Sample 1", "f": 29.18, "db": -1.91},
      {"p": "S21", "s": "Sample 1", "f": 29.22, "db": -2.00},
      {"p": "S21", "s": "Sample 1", "f": 29.25, "db": -2.20},
      {"p": "S21", "s": "Sample 1", "f": 29.29, "db": -1.95},
      {"p": "S21", "s": "Sample 1", "f": 29.34, "db": -1.92},
      {"p": "S21", "s": "Sample 1", "f": 29.40, "db": -1.95},
      {"p": "S21", "s": "Sample 1", "f": 29.46, "db": -1.93},
      {"p": "S21", "s": "Sample 1", "f": 29.52, "db": -1.96},
      {"p": "S21", "s": "Sample 1", "f": 29.58, "db": -1.94},
      {"p": "S21", "s": "Sample 1", "f": 29.64, "db": -1.97},
      {"p": "S21", "s": "Sample 1", "f": 29.70, "db": -1.95},
      {"p": "S21", "s": "Sample 1", "f": 29.76, "db": -1.98},
      {"p": "S21", "s": "Sample 1", "f": 29.82, "db": -1.96},
      {"p": "S21", "s": "Sample 1", "f": 29.88, "db": -2.00},
      {"p": "S21", "s": "Sample 1", "f": 29.94, "db": -1.98},
      {"p": "S21", "s": "Sample 1", "f": 30.00, "db": -2.02},
      {"p": "S21", "s": "Sample 1", "f": 30.06, "db": -2.00},
      {"p": "S21", "s": "Sample 1", "f": 30.12, "db": -2.04},
      {"p": "S21", "s": "Sample 1", "f": 30.18, "db": -2.02},
      {"p": "S21", "s": "Sample 1", "f": 30.24, "db": -2.06},
      {"p": "S21", "s": "Sample 1", "f": 30.30, "db": -2.04},
      {"p": "S21", "s": "Sample 1", "f": 30.36, "db": -2.08},
      {"p": "S21", "s": "Sample 1", "f": 30.42, "db": -2.06},
      {"p": "S21", "s": "Sample 1", "f": 30.48, "db": -2.10},
      {"p": "S21", "s": "Sample 1", "f": 30.54, "db": -2.08},
      {"p": "S21", "s": "Sample 1", "f": 30.60, "db": -2.12},
      {"p": "S21", "s": "Sample 1", "f": 30.66, "db": -2.10},
      {"p": "S21", "s": "Sample 1", "f": 30.72, "db": -2.14},
      {"p": "S21", "s": "Sample 1", "f": 30.78, "db": -2.12},
      {"p": "S21", "s": "Sample 1", "f": 30.84, "db": -2.16},
      {"p": "S21", "s": "Sample 1", "f": 30.90, "db": -2.14},
      {"p": "S21", "s": "Sample 1", "f": 30.96, "db": -2.18},
      {"p": "S21", "s": "Sample 1", "f": 31.02, "db": -2.16},
      {"p": "S21", "s": "Sample 1", "f": 31.08, "db": -2.20},
      {"p": "S21", "s": "Sample 1", "f": 31.14, "db": -2.20},
      {"p": "S21", "s": "Sample 1", "f": 31.20, "db": -2.30},
      {"p": "S21", "s": "Sample 1", "f": 31.25, "db": -2.28},
      {"p": "S21", "s": "Sample 1", "f": 31.30, "db": -2.04},
      {"p": "S21", "s": "Sample 1", "f": 31.34, "db": -2.24},
      {"p": "S21", "s": "Sample 1", "f": 31.40, "db": -2.20},
      {"p": "S21", "s": "Sample 1", "f": 31.46, "db": -2.17},
      {"p": "S21", "s": "Sample 1", "f": 31.52, "db": -2.21},
      {"p": "S21", "s": "Sample 1", "f": 31.58, "db": -2.19},
      {"p": "S21", "s": "Sample 1", "f": 31.64, "db": -2.22},
      {"p": "S21", "s": "Sample 1", "f": 31.70, "db": -2.18},
      {"p": "S21", "s": "Sample 1", "f": 31.76, "db": -2.20},
      {"p": "S21", "s": "Sample 1", "f": 31.82, "db": -2.16},
      {"p": "S21", "s": "Sample 1", "f": 31.88, "db": -2.14},
      {"p": "S21", "s": "Sample 1", "f": 31.94, "db": -2.10},
      {"p": "S21", "s": "Sample 1", "f": 32.00, "db": -2.08},
      {"p": "S21", "s": "Sample 1", "f": 32.08, "db": -2.04},
      {"p": "S21", "s": "Sample 1", "f": 32.16, "db": -1.99},
      {"p": "S21", "s": "Sample 1", "f": 32.24, "db": -1.93},
      {"p": "S21", "s": "Sample 1", "f": 32.30, "db": -1.86},
      {"p": "S21", "s": "Sample 1", "f": 32.36, "db": -1.76},
      {"p": "S21", "s": "Sample 1", "f": 32.42, "db": -1.65},
      {"p": "S21", "s": "Sample 1", "f": 32.48, "db": -1.50},
      {"p": "S21", "s": "Sample 1", "f": 32.55, "db": -1.33},
      {"p": "S21", "s": "Sample 1", "f": 32.59, "db": -1.40},
      {"p": "S21", "s": "Sample 1", "f": 32.62, "db": -2.00},
      {"p": "S21", "s": "Sample 1", "f": 32.64, "db": -2.60},
      {"p": "S21", "s": "Sample 1", "f": 32.66, "db": -5.20},
      {"p": "S21", "s": "Sample 1", "f": 32.79, "db": -5.20},
      {"p": "S21", "s": "Sample 1", "f": 32.82, "db": -3.00},
      {"p": "S21", "s": "Sample 1", "f": 32.85, "db": -2.45},
      {"p": "S21", "s": "Sample 1", "f": 32.88, "db": -3.50},
      {"p": "S21", "s": "Sample 1", "f": 32.91, "db": -5.20},
      {"p": "S21", "s": "Sample 1", "f": 32.98, "db": -5.20},
      {"p": "S21", "s": "Sample 1", "f": 33.00, "db": -2.80},

      {"p": "S21", "s": "Sample 2", "f": 23.00, "db": -3.76},
      {"p": "S21", "s": "Sample 2", "f": 23.06, "db": -3.64},
      {"p": "S21", "s": "Sample 2", "f": 23.12, "db": -3.56},
      {"p": "S21", "s": "Sample 2", "f": 23.18, "db": -3.48},
      {"p": "S21", "s": "Sample 2", "f": 23.24, "db": -3.41},
      {"p": "S21", "s": "Sample 2", "f": 23.30, "db": -3.34},
      {"p": "S21", "s": "Sample 2", "f": 23.36, "db": -3.27},
      {"p": "S21", "s": "Sample 2", "f": 23.42, "db": -3.21},
      {"p": "S21", "s": "Sample 2", "f": 23.48, "db": -3.16},
      {"p": "S21", "s": "Sample 2", "f": 23.53, "db": -3.12},
      {"p": "S21", "s": "Sample 2", "f": 23.57, "db": -3.30},
      {"p": "S21", "s": "Sample 2", "f": 23.62, "db": -3.58},
      {"p": "S21", "s": "Sample 2", "f": 23.64, "db": -3.20},
      {"p": "S21", "s": "Sample 2", "f": 23.68, "db": -3.02},
      {"p": "S21", "s": "Sample 2", "f": 23.74, "db": -2.97},
      {"p": "S21", "s": "Sample 2", "f": 23.80, "db": -2.94},
      {"p": "S21", "s": "Sample 2", "f": 23.86, "db": -2.96},
      {"p": "S21", "s": "Sample 2", "f": 23.92, "db": -2.93},
      {"p": "S21", "s": "Sample 2", "f": 23.97, "db": -2.95},
      {"p": "S21", "s": "Sample 2", "f": 24.00, "db": -3.78},
      {"p": "S21", "s": "Sample 2", "f": 24.04, "db": -2.60},
      {"p": "S21", "s": "Sample 2", "f": 24.08, "db": -2.76},
      {"p": "S21", "s": "Sample 2", "f": 24.14, "db": -2.71},
      {"p": "S21", "s": "Sample 2", "f": 24.20, "db": -2.68},
      {"p": "S21", "s": "Sample 2", "f": 24.26, "db": -2.64},
      {"p": "S21", "s": "Sample 2", "f": 24.32, "db": -2.61},
      {"p": "S21", "s": "Sample 2", "f": 24.38, "db": -2.58},
      {"p": "S21", "s": "Sample 2", "f": 24.44, "db": -2.56},
      {"p": "S21", "s": "Sample 2", "f": 24.50, "db": -2.53},
      {"p": "S21", "s": "Sample 2", "f": 24.56, "db": -2.51},
      {"p": "S21", "s": "Sample 2", "f": 24.62, "db": -2.48},
      {"p": "S21", "s": "Sample 2", "f": 24.68, "db": -2.46},
      {"p": "S21", "s": "Sample 2", "f": 24.74, "db": -2.44},
      {"p": "S21", "s": "Sample 2", "f": 24.80, "db": -2.41},
      {"p": "S21", "s": "Sample 2", "f": 24.86, "db": -2.39},
      {"p": "S21", "s": "Sample 2", "f": 24.92, "db": -2.36},
      {"p": "S21", "s": "Sample 2", "f": 24.98, "db": -2.34},
      {"p": "S21", "s": "Sample 2", "f": 25.04, "db": -2.30},
      {"p": "S21", "s": "Sample 2", "f": 25.10, "db": -2.31},
      {"p": "S21", "s": "Sample 2", "f": 25.16, "db": -2.27},
      {"p": "S21", "s": "Sample 2", "f": 25.22, "db": -2.28},
      {"p": "S21", "s": "Sample 2", "f": 25.28, "db": -2.24},
      {"p": "S21", "s": "Sample 2", "f": 25.34, "db": -2.25},
      {"p": "S21", "s": "Sample 2", "f": 25.40, "db": -2.21},
      {"p": "S21", "s": "Sample 2", "f": 25.46, "db": -2.22},
      {"p": "S21", "s": "Sample 2", "f": 25.52, "db": -2.17},
      {"p": "S21", "s": "Sample 2", "f": 25.58, "db": -2.19},
      {"p": "S21", "s": "Sample 2", "f": 25.64, "db": -2.14},
      {"p": "S21", "s": "Sample 2", "f": 25.70, "db": -2.16},
      {"p": "S21", "s": "Sample 2", "f": 25.76, "db": -2.11},
      {"p": "S21", "s": "Sample 2", "f": 25.82, "db": -2.13},
      {"p": "S21", "s": "Sample 2", "f": 25.88, "db": -2.08},
      {"p": "S21", "s": "Sample 2", "f": 25.94, "db": -2.10},
      {"p": "S21", "s": "Sample 2", "f": 26.00, "db": -2.05},
      {"p": "S21", "s": "Sample 2", "f": 26.06, "db": -2.07},
      {"p": "S21", "s": "Sample 2", "f": 26.12, "db": -2.02},
      {"p": "S21", "s": "Sample 2", "f": 26.18, "db": -2.04},
      {"p": "S21", "s": "Sample 2", "f": 26.24, "db": -1.99},
      {"p": "S21", "s": "Sample 2", "f": 26.30, "db": -2.01},
      {"p": "S21", "s": "Sample 2", "f": 26.36, "db": -1.97},
      {"p": "S21", "s": "Sample 2", "f": 26.42, "db": -1.99},
      {"p": "S21", "s": "Sample 2", "f": 26.48, "db": -1.95},
      {"p": "S21", "s": "Sample 2", "f": 26.54, "db": -1.97},
      {"p": "S21", "s": "Sample 2", "f": 26.60, "db": -1.93},
      {"p": "S21", "s": "Sample 2", "f": 26.66, "db": -1.96},
      {"p": "S21", "s": "Sample 2", "f": 26.72, "db": -1.93},
      {"p": "S21", "s": "Sample 2", "f": 26.75, "db": -2.07},
      {"p": "S21", "s": "Sample 2", "f": 26.78, "db": -1.93},
      {"p": "S21", "s": "Sample 2", "f": 26.84, "db": -1.90},
      {"p": "S21", "s": "Sample 2", "f": 26.90, "db": -1.93},
      {"p": "S21", "s": "Sample 2", "f": 26.96, "db": -1.89},
      {"p": "S21", "s": "Sample 2", "f": 27.02, "db": -1.92},
      {"p": "S21", "s": "Sample 2", "f": 27.08, "db": -1.88},
      {"p": "S21", "s": "Sample 2", "f": 27.14, "db": -1.91},
      {"p": "S21", "s": "Sample 2", "f": 27.20, "db": -1.87},
      {"p": "S21", "s": "Sample 2", "f": 27.26, "db": -1.90},
      {"p": "S21", "s": "Sample 2", "f": 27.32, "db": -1.86},
      {"p": "S21", "s": "Sample 2", "f": 27.38, "db": -1.89},
      {"p": "S21", "s": "Sample 2", "f": 27.44, "db": -1.85},
      {"p": "S21", "s": "Sample 2", "f": 27.50, "db": -1.88},
      {"p": "S21", "s": "Sample 2", "f": 27.56, "db": -1.84},
      {"p": "S21", "s": "Sample 2", "f": 27.62, "db": -1.87},
      {"p": "S21", "s": "Sample 2", "f": 27.68, "db": -1.84},
      {"p": "S21", "s": "Sample 2", "f": 27.74, "db": -1.86},
      {"p": "S21", "s": "Sample 2", "f": 27.80, "db": -1.83},
      {"p": "S21", "s": "Sample 2", "f": 27.86, "db": -1.86},
      {"p": "S21", "s": "Sample 2", "f": 27.92, "db": -1.82},
      {"p": "S21", "s": "Sample 2", "f": 27.98, "db": -1.86},
      {"p": "S21", "s": "Sample 2", "f": 28.04, "db": -1.89},
      {"p": "S21", "s": "Sample 2", "f": 28.10, "db": -1.85},
      {"p": "S21", "s": "Sample 2", "f": 28.16, "db": -1.88},
      {"p": "S21", "s": "Sample 2", "f": 28.22, "db": -1.85},
      {"p": "S21", "s": "Sample 2", "f": 28.28, "db": -1.88},
      {"p": "S21", "s": "Sample 2", "f": 28.34, "db": -1.85},
      {"p": "S21", "s": "Sample 2", "f": 28.40, "db": -1.89},
      {"p": "S21", "s": "Sample 2", "f": 28.46, "db": -1.86},
      {"p": "S21", "s": "Sample 2", "f": 28.52, "db": -1.89},
      {"p": "S21", "s": "Sample 2", "f": 28.58, "db": -1.86},
      {"p": "S21", "s": "Sample 2", "f": 28.64, "db": -1.90},
      {"p": "S21", "s": "Sample 2", "f": 28.70, "db": -1.87},
      {"p": "S21", "s": "Sample 2", "f": 28.76, "db": -1.90},
      {"p": "S21", "s": "Sample 2", "f": 28.82, "db": -1.87},
      {"p": "S21", "s": "Sample 2", "f": 28.88, "db": -1.91},
      {"p": "S21", "s": "Sample 2", "f": 28.94, "db": -1.88},
      {"p": "S21", "s": "Sample 2", "f": 29.00, "db": -1.91},
      {"p": "S21", "s": "Sample 2", "f": 29.06, "db": -1.89},
      {"p": "S21", "s": "Sample 2", "f": 29.12, "db": -1.92},
      {"p": "S21", "s": "Sample 2", "f": 29.18, "db": -1.90},
      {"p": "S21", "s": "Sample 2", "f": 29.24, "db": -1.94},
      {"p": "S21", "s": "Sample 2", "f": 29.30, "db": -1.93},
      {"p": "S21", "s": "Sample 2", "f": 29.34, "db": -2.05},
      {"p": "S21", "s": "Sample 2", "f": 29.38, "db": -1.95},
      {"p": "S21", "s": "Sample 2", "f": 29.44, "db": -1.97},
      {"p": "S21", "s": "Sample 2", "f": 29.50, "db": -1.95},
      {"p": "S21", "s": "Sample 2", "f": 29.56, "db": -1.98},
      {"p": "S21", "s": "Sample 2", "f": 29.62, "db": -1.96},
      {"p": "S21", "s": "Sample 2", "f": 29.68, "db": -1.99},
      {"p": "S21", "s": "Sample 2", "f": 29.74, "db": -1.97},
      {"p": "S21", "s": "Sample 2", "f": 29.80, "db": -2.00},
      {"p": "S21", "s": "Sample 2", "f": 29.86, "db": -1.98},
      {"p": "S21", "s": "Sample 2", "f": 29.92, "db": -2.02},
      {"p": "S21", "s": "Sample 2", "f": 29.97, "db": -2.19},
      {"p": "S21", "s": "Sample 2", "f": 30.01, "db": -2.03},
      {"p": "S21", "s": "Sample 2", "f": 30.06, "db": -2.02},
      {"p": "S21", "s": "Sample 2", "f": 30.12, "db": -2.05},
      {"p": "S21", "s": "Sample 2", "f": 30.18, "db": -2.04},
      {"p": "S21", "s": "Sample 2", "f": 30.24, "db": -2.07},
      {"p": "S21", "s": "Sample 2", "f": 30.30, "db": -2.05},
      {"p": "S21", "s": "Sample 2", "f": 30.36, "db": -2.09},
      {"p": "S21", "s": "Sample 2", "f": 30.42, "db": -2.07},
      {"p": "S21", "s": "Sample 2", "f": 30.48, "db": -2.11},
      {"p": "S21", "s": "Sample 2", "f": 30.54, "db": -2.09},
      {"p": "S21", "s": "Sample 2", "f": 30.60, "db": -2.13},
      {"p": "S21", "s": "Sample 2", "f": 30.66, "db": -2.11},
      {"p": "S21", "s": "Sample 2", "f": 30.72, "db": -2.15},
      {"p": "S21", "s": "Sample 2", "f": 30.78, "db": -2.13},
      {"p": "S21", "s": "Sample 2", "f": 30.84, "db": -2.17},
      {"p": "S21", "s": "Sample 2", "f": 30.90, "db": -2.15},
      {"p": "S21", "s": "Sample 2", "f": 30.96, "db": -2.19},
      {"p": "S21", "s": "Sample 2", "f": 31.02, "db": -2.17},
      {"p": "S21", "s": "Sample 2", "f": 31.08, "db": -2.21},
      {"p": "S21", "s": "Sample 2", "f": 31.14, "db": -2.21},
      {"p": "S21", "s": "Sample 2", "f": 31.20, "db": -2.30},
      {"p": "S21", "s": "Sample 2", "f": 31.23, "db": -2.45},
      {"p": "S21", "s": "Sample 2", "f": 31.26, "db": -3.60},
      {"p": "S21", "s": "Sample 2", "f": 31.29, "db": -4.60},
      {"p": "S21", "s": "Sample 2", "f": 31.32, "db": -3.60},
      {"p": "S21", "s": "Sample 2", "f": 31.36, "db": -2.45},
      {"p": "S21", "s": "Sample 2", "f": 31.40, "db": -2.25},
      {"p": "S21", "s": "Sample 2", "f": 31.46, "db": -2.20},
      {"p": "S21", "s": "Sample 2", "f": 31.52, "db": -2.16},
      {"p": "S21", "s": "Sample 2", "f": 31.58, "db": -2.18},
      {"p": "S21", "s": "Sample 2", "f": 31.64, "db": -2.14},
      {"p": "S21", "s": "Sample 2", "f": 31.70, "db": -2.16},
      {"p": "S21", "s": "Sample 2", "f": 31.76, "db": -2.12},
      {"p": "S21", "s": "Sample 2", "f": 31.82, "db": -2.14},
      {"p": "S21", "s": "Sample 2", "f": 31.88, "db": -2.10},
      {"p": "S21", "s": "Sample 2", "f": 31.94, "db": -2.09},
      {"p": "S21", "s": "Sample 2", "f": 32.00, "db": -2.06},
      {"p": "S21", "s": "Sample 2", "f": 32.08, "db": -2.04},
      {"p": "S21", "s": "Sample 2", "f": 32.16, "db": -2.00},
      {"p": "S21", "s": "Sample 2", "f": 32.24, "db": -1.95},
      {"p": "S21", "s": "Sample 2", "f": 32.30, "db": -1.92},
      {"p": "S21", "s": "Sample 2", "f": 32.33, "db": -2.58},
      {"p": "S21", "s": "Sample 2", "f": 32.36, "db": -1.82},
      {"p": "S21", "s": "Sample 2", "f": 32.42, "db": -1.55},
      {"p": "S21", "s": "Sample 2", "f": 32.48, "db": -1.22},
      {"p": "S21", "s": "Sample 2", "f": 32.54, "db": -0.92},
      {"p": "S21", "s": "Sample 2", "f": 32.57, "db": -0.80},
      {"p": "S21", "s": "Sample 2", "f": 32.61, "db": -0.95},
      {"p": "S21", "s": "Sample 2", "f": 32.64, "db": -1.25},
      {"p": "S21", "s": "Sample 2", "f": 32.65, "db": -2.90},
      {"p": "S21", "s": "Sample 2", "f": 32.67, "db": -5.20},
      {"p": "S21", "s": "Sample 2", "f": 32.80, "db": -5.20},
      {"p": "S21", "s": "Sample 2", "f": 32.84, "db": -2.50},
      {"p": "S21", "s": "Sample 2", "f": 32.88, "db": -1.30},
      {"p": "S21", "s": "Sample 2", "f": 32.92, "db": -3.10},
      {"p": "S21", "s": "Sample 2", "f": 32.94, "db": -5.20},
      {"p": "S21", "s": "Sample 2", "f": 32.99, "db": -5.20},
      {"p": "S21", "s": "Sample 2", "f": 33.00, "db": -4.00}
    ]
  },
  "data": {"name": "curves"},
  "resolve": {
    "scale": {"y": "independent"},
    "axis": {"x": "independent", "y": "independent"}
  },
  "layer": [
    {
      "transform": [{"filter": "datum.p == 'S11'"}],
      "mark": {"type": "line", "clip": true, "strokeWidth": 7.5},
      "encoding": {
        "x": {
          "field": "f",
          "type": "quantitative",
          "scale": {"domain": [23, 33], "nice": false, "zero": false},
          "axis": {
            "orient": "bottom",
            "values": [24, 26, 28, 30, 32],
            "grid": true,
            "gridColor": "#b5b5b5",
            "gridWidth": 6,
            "gridDash": [43, 25],
            "domainColor": "black",
            "domainWidth": 6,
            "tickColor": "black",
            "tickWidth": 5,
            "tickSize": -23,
            "labelFont": "Liberation Serif",
            "labelFontSize": 84,
            "labelColor": "black",
            "labelPadding": 48,
            "title": "Frequency [GHz]",
            "titleFont": "Liberation Serif",
            "titleFontSize": 92,
            "titleFontWeight": "normal",
            "titleColor": "black",
            "titlePadding": 22
          }
        },
        "y": {
          "field": "db",
          "type": "quantitative",
          "scale": {"domain": [-5, 0], "nice": false, "zero": false},
          "axis": {
            "orient": "left",
            "values": [0, -0.5, -1, -1.5, -2, -2.5, -3, -3.5, -4, -4.5, -5],
            "labelExpr": "'' + datum.value",
            "grid": true,
            "gridColor": "#b5b5b5",
            "gridWidth": 6,
            "gridDash": [43, 25],
            "domainColor": "black",
            "domainWidth": 6,
            "tickColor": "black",
            "tickWidth": 5,
            "tickSize": -23,
            "labelFont": "Liberation Serif",
            "labelFontSize": 84,
            "labelColor": "black",
            "labelPadding": 28,
            "title": "|S11| [dB]",
            "titleFont": "Liberation Serif",
            "titleFontSize": 92,
            "titleFontWeight": "normal",
            "titleColor": "black",
            "titlePadding": 30
          }
        },
        "color": {
          "field": "p",
          "type": "nominal",
          "scale": {"domain": ["S11", "S21"], "range": ["#000000", "#ff0000"]},
          "legend": null
        },
        "strokeDash": {
          "field": "s",
          "type": "nominal",
          "scale": {"domain": ["Sample 1", "Sample 2", "Sample 3"], "range": [[10, 8], [46, 34], [1, 0]]},
          "legend": {
            "title": null,
            "orient": "none",
            "legendX": 80,
            "legendY": 63,
            "symbolType": "stroke",
            "symbolSize": 30625,
            "symbolStrokeWidth": 13,
            "symbolStrokeColor": "black",
            "symbolDashOffset": 46,
            "clipHeight": 100,
            "labelFont": "Lato",
            "labelFontSize": 73,
            "labelColor": "black",
            "labelLimit": 0,
            "labelOffset": 47,
            "rowPadding": 7,
            "padding": 0
          }
        },
        "detail": {"field": "s"}
      }
    },
    {
      "transform": [{"filter": "datum.p == 'S21'"}],
      "mark": {"type": "line", "clip": true, "strokeWidth": 7.5},
      "encoding": {
        "x": {
          "field": "f",
          "type": "quantitative",
          "scale": {"domain": [23, 33], "nice": false, "zero": false},
          "axis": {
            "orient": "top",
            "values": [24, 26, 28, 30, 32],
            "grid": false,
            "labels": false,
            "title": null,
            "domainColor": "black",
            "domainWidth": 6,
            "tickColor": "black",
            "tickWidth": 5,
            "tickSize": -23
          }
        },
        "y": {
          "field": "db",
          "type": "quantitative",
          "scale": {"domain": [-5, 0], "nice": false, "zero": false},
          "axis": {
            "orient": "right",
            "values": [0, -0.5, -1, -1.5, -2, -2.5, -3, -3.5, -4, -4.5, -5],
            "labelExpr": "'' + datum.value",
            "grid": false,
            "domainColor": "#ff0000",
            "domainWidth": 6,
            "tickColor": "#ff0000",
            "tickWidth": 5,
            "tickSize": -23,
            "labelFont": "Liberation Serif",
            "labelFontSize": 84,
            "labelColor": "#ff0000",
            "labelPadding": 28,
            "title": "|S21| [dB]",
            "titleFont": "Liberation Serif",
            "titleFontSize": 92,
            "titleFontWeight": "normal",
            "titleColor": "#ff0000",
            "titlePadding": 50
          }
        },
        "color": {
          "field": "p",
          "type": "nominal",
          "scale": {"domain": ["S11", "S21"], "range": ["#000000", "#ff0000"]},
          "legend": null
        },
        "strokeDash": {
          "field": "s",
          "type": "nominal",
          "scale": {"domain": ["Sample 1", "Sample 2", "Sample 3"], "range": [[10, 8], [46, 34], [1, 0]]},
          "legend": {
            "title": null,
            "orient": "none",
            "legendX": 80,
            "legendY": 63,
            "symbolType": "stroke",
            "symbolSize": 30625,
            "symbolStrokeWidth": 13,
            "symbolStrokeColor": "black",
            "symbolDashOffset": 46,
            "clipHeight": 100,
            "labelFont": "Lato",
            "labelFontSize": 73,
            "labelColor": "black",
            "labelLimit": 0,
            "labelOffset": 47,
            "rowPadding": 7,
            "padding": 0
          }
        },
        "detail": {"field": "s"}
      }
    },
    {
      "data": {"name": "ann"},
      "mark": {"type": "line", "strokeWidth": 7},
      "encoding": {
        "x": {"field": "f", "type": "quantitative", "scale": {"domain": [23, 33], "nice": false, "zero": false}, "axis": null},
        "y": {"field": "db", "type": "quantitative", "scale": {"domain": [-5, 0], "nice": false, "zero": false}, "axis": null},
        "color": {"field": "p", "type": "nominal", "scale": {"domain": ["S11", "S21"], "range": ["#000000", "#ff0000"]}, "legend": null},
        "detail": {"field": "g"},
        "order": {"field": "i"}
      }
    },
    {
      "data": {"name": "heads"},
      "mark": {"type": "point", "filled": true, "opacity": 1, "size": 1000},
      "encoding": {
        "x": {"field": "f", "type": "quantitative", "scale": {"domain": [23, 33], "nice": false, "zero": false}, "axis": null},
        "y": {"field": "db", "type": "quantitative", "scale": {"domain": [-5, 0], "nice": false, "zero": false}, "axis": null},
        "color": {"field": "p", "type": "nominal", "scale": {"domain": ["S11", "S21"], "range": ["#000000", "#ff0000"]}, "legend": null},
        "shape": {"field": "d", "type": "nominal", "scale": {"domain": ["left", "right"], "range": ["triangle-left", "triangle-right"]}, "legend": null}
      }
    },
    {
      "data": {"name": "rings"},
      "mark": {
        "type": "point",
        "filled": false,
        "opacity": 1,
        "strokeWidth": 7,
        "size": 100000,
        "shape": "M 0 -1 A 0.387 1 0 1 1 0 1 A 0.387 1 0 1 1 0 -1 Z"
      },
      "encoding": {
        "x": {"field": "f", "type": "quantitative", "scale": {"domain": [23, 33], "nice": false, "zero": false}, "axis": null},
        "y": {"field": "db", "type": "quantitative", "scale": {"domain": [-5, 0], "nice": false, "zero": false}, "axis": null},
        "color": {"field": "p", "type": "nominal", "scale": {"domain": ["S11", "S21"], "range": ["#000000", "#ff0000"]}, "legend": null}
      }
    }
  ]
}
